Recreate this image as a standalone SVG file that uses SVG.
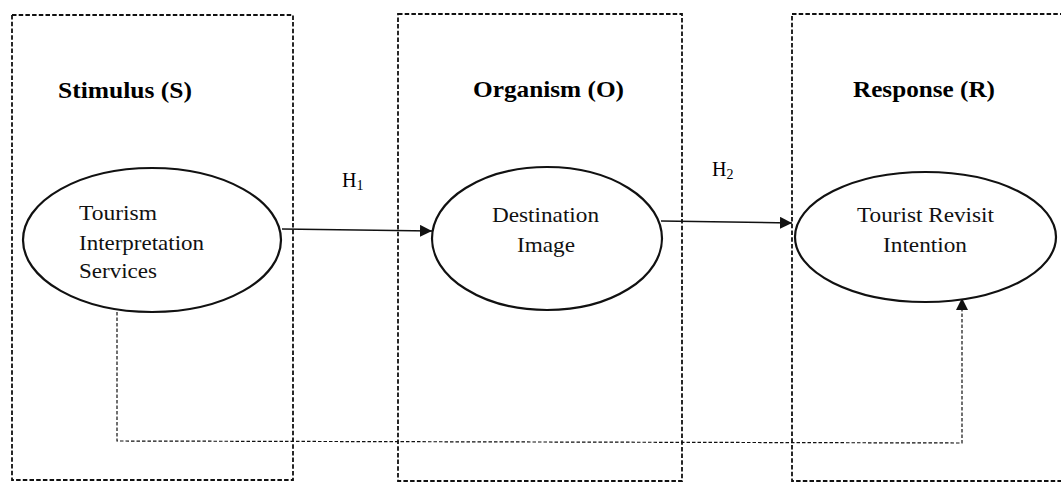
<svg xmlns="http://www.w3.org/2000/svg" width="1061" height="483" viewBox="0 0 1061 483">
  <style>
    .frame { fill: none; stroke: #111; stroke-width: 1.8; stroke-dasharray: 4.5 2.2; }
    .node { fill: #fff; stroke: #111; stroke-width: 2.2; }
    .title { font-family: "Liberation Serif", "Times New Roman", serif; font-weight: bold; font-size: 24px; fill: #000; }
    .label { font-family: "Liberation Serif", "Times New Roman", serif; font-size: 21px; fill: #111; }
    .hyp { font-family: "Liberation Serif", "Times New Roman", serif; font-size: 20px; fill: #000; }
    .edge { fill: none; stroke: #111; stroke-width: 1.4; }
    .edge-dashed { fill: none; stroke: #111; stroke-width: 1.2; stroke-dasharray: 3.5 2; }
  </style>
  <defs>
    <marker id="arrow" viewBox="0 0 12 12" refX="12" refY="6" markerWidth="12" markerHeight="12" markerUnits="userSpaceOnUse" orient="auto">
      <path d="M0,0 L12,6 L0,12 Z" fill="#111"/>
    </marker>
  </defs>

  <rect width="1061" height="483" fill="#fff"/>

  <!-- stage frames -->
  <g id="stage-stimulus">
    <rect class="frame" x="12" y="15" width="281" height="465"/>
    <text class="title" x="58" y="98" textLength="134" lengthAdjust="spacingAndGlyphs">Stimulus (S)</text>
  </g>
  <g id="stage-organism">
    <rect class="frame" x="398" y="14" width="284" height="467"/>
    <text class="title" x="473" y="97" textLength="151" lengthAdjust="spacingAndGlyphs">Organism (O)</text>
  </g>
  <g id="stage-response">
    <rect class="frame" x="792" y="14" width="280" height="467"/>
    <text class="title" x="853" y="97" textLength="142" lengthAdjust="spacingAndGlyphs">Response (R)</text>
  </g>

  <!-- connectors -->
  <g id="connectors">
    <path class="edge" d="M282,229 L432,231" marker-end="url(#arrow)"/>
    <text class="hyp" x="342" y="187">H<tspan font-size="14" dy="3">1</tspan></text>
    <path class="edge" d="M661,221 L792,223" marker-end="url(#arrow)"/>
    <text class="hyp" x="712" y="176">H<tspan font-size="14" dy="3">2</tspan></text>
    <path class="edge-dashed" d="M117,312 L117,441 L962,443 L962,298" marker-end="url(#arrow)"/>
  </g>

  <!-- constructs -->
  <g id="node-interpretation">
    <ellipse class="node" cx="152" cy="240" rx="129" ry="72"/>
    <text class="label" x="79" y="220" textLength="78" lengthAdjust="spacingAndGlyphs">Tourism</text>
    <text class="label" x="79" y="250" textLength="125" lengthAdjust="spacingAndGlyphs">Interpretation</text>
    <text class="label" x="79" y="278" textLength="78" lengthAdjust="spacingAndGlyphs">Services</text>
  </g>
  <g id="node-image">
    <ellipse class="node" cx="547" cy="238.5" rx="115" ry="71.5"/>
    <text class="label" x="492" y="222" textLength="107" lengthAdjust="spacingAndGlyphs">Destination</text>
    <text class="label" x="517" y="252" textLength="58" lengthAdjust="spacingAndGlyphs">Image</text>
  </g>
  <g id="node-revisit">
    <ellipse class="node" cx="925.5" cy="237" rx="130.5" ry="65"/>
    <text class="label" x="857" y="222" textLength="137" lengthAdjust="spacingAndGlyphs">Tourist Revisit</text>
    <text class="label" x="883" y="252" textLength="84" lengthAdjust="spacingAndGlyphs">Intention</text>
  </g>
</svg>
